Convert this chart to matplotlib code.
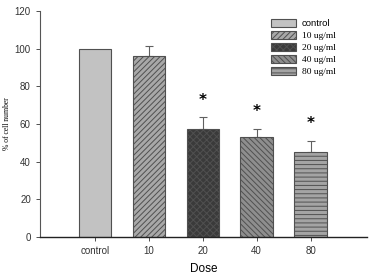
import matplotlib.pyplot as plt

doses = ["control", "10", "20", "40", "80"]
legend_labels = ["control", "10 ug/ml", "20 ug/ml", "40 ug/ml", "80 ug/ml"]
cell_pct = [100, 96, 57.5, 53, 45]
err_up = [0, 5.5, 6, 4.5, 6]
significant = [False, False, True, True, True]

faces = ["#c2c2c2", "#a8a8a8", "#3a3a3a", "#8e8e8e", "#a4a4a4"]
hatches = [None, "//////", "xxxxx", "\\\\\\\\\\\\", "----"]

plt.rcParams["hatch.linewidth"] = 0.7
plt.rcParams["hatch.color"] = "#303030"

fig = plt.figure(figsize=(3.69, 2.74), dpi=100)
ax = fig.add_axes([0.108, 0.135, 0.887, 0.825])

x = list(range(len(doses)))
for i in x:
    ax.bar(i, cell_pct[i], width=0.6, color=faces[i], edgecolor="#505050",
           linewidth=0.8, hatch=hatches[i], label=legend_labels[i], zorder=2)
    if err_up[i] > 0:
        ax.errorbar(i, cell_pct[i], yerr=[[0], [err_up[i]]], fmt="none",
                    ecolor="#606060", elinewidth=0.8, capsize=3, capthick=0.8, zorder=1)
    if significant[i]:
        ax.text(i, cell_pct[i] + err_up[i] + 9, "*", ha="center", va="center",
                fontsize=11, fontweight="bold", family="DejaVu Sans")

ax.set_xlim(-1.02, 5.05)
ax.set_ylim(0, 120)
ax.set_yticks(range(0, 121, 20))
ax.set_xticks(x)
ax.set_xticklabels(doses)
ax.tick_params(labelsize=7, length=3, width=0.6, colors="#333333")
for lab in ax.get_xticklabels() + ax.get_yticklabels():
    lab.set_family("Liberation Sans")
ax.spines["top"].set_visible(False)
ax.spines["right"].set_visible(False)
ax.spines["left"].set_color("#555555")
ax.spines["bottom"].set_color("#222222")
ax.spines["left"].set_linewidth(0.8)
ax.spines["bottom"].set_linewidth(1.0)

ax.set_xlabel("Dose", fontsize=8.5, family="Liberation Sans", labelpad=5)
ax.set_ylabel("% of cell number", fontsize=5.5, family="Liberation Serif", labelpad=3)

leg = ax.legend(loc="upper right", bbox_to_anchor=(0.925, 0.995), frameon=False,
                fontsize=6.8, handlelength=2.7, handleheight=0.9,
                handletextpad=0.6, labelspacing=0.3, borderaxespad=0.3)
for i, t in enumerate(leg.get_texts()):
    t.set_family("Liberation Sans" if i == 0 else "Liberation Serif")

fig.savefig("out.png", dpi=100)
